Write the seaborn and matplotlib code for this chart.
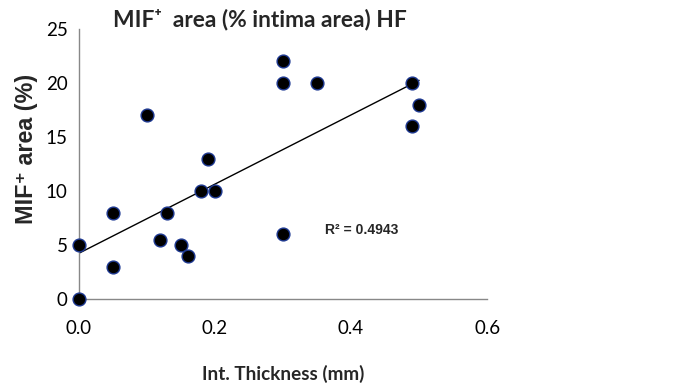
import numpy as np
import pandas as pd
import seaborn as sns
import matplotlib
matplotlib.use("Agg")
import matplotlib.pyplot as plt

thickness = [0.0, 0.0, 0.05, 0.05, 0.10, 0.12, 0.13, 0.15, 0.16, 0.18, 0.19, 0.20,
             0.30, 0.30, 0.30, 0.35, 0.49, 0.49, 0.50]
mif_area = [0, 5, 3, 8, 17, 5.5, 8, 5, 4, 10, 13, 10,
            22, 20, 6, 20, 20, 16, 18]
x_ticks = [0.0, 0.2, 0.4, 0.6]
x_tick_labels = ["0.0", "0.2", "0.4", "0.6"]
y_ticks = [0, 5, 10, 15, 20, 25]

df = pd.DataFrame({"x": thickness, "y": mif_area})

sns.set_theme(style="white")
plt.rcParams['font.family'] = ['Lato', 'DejaVu Sans']

fig = plt.figure(figsize=(6.91, 3.92), dpi=100)
ax = fig.add_axes([0.114, 0.237, 0.591, 0.689])

sns.regplot(data=df, x="x", y="y", ax=ax, ci=None, truncate=True,
            scatter_kws=dict(s=85, color="black", edgecolor="#1f3a93", linewidths=1.0,
                             zorder=3, alpha=1, clip_on=False),
            line_kws=dict(color="black", lw=1.0, zorder=2))

ax.set_xlim(0, 0.6)
ax.set_ylim(0, 25)
ax.set_xticks(x_ticks)
ax.set_xticklabels(x_tick_labels)
ax.set_yticks(y_ticks)
for s in ["top", "right"]:
    ax.spines[s].set_visible(False)
for s in ["left", "bottom"]:
    ax.spines[s].set_color("#888888")
    ax.spines[s].set_linewidth(1.0)
ax.tick_params(axis="both", direction="out", length=6, width=1, color="#888888",
               labelsize=13, labelcolor="black", pad=2)
ax.tick_params(axis="x", pad=9)

xl = ax.set_xlabel("Int. Thickness (mm)", fontsize=14, fontweight="bold")
yl = ax.set_ylabel("MIF⁺ area (%)", fontsize=16, fontweight="bold",
                   family=["Liberation Sans", "DejaVu Sans"])
title = fig.text(260 / 691, 1 - 19 / 392, "MIF⁺  area (% intima area) HF", fontsize=17,
                 fontweight="bold", ha="center", va="center")

ax.text(0.362, 6.4, "R² = 0.4943", fontsize=10, fontweight="bold",
        family=["Liberation Sans", "DejaVu Sans"], va="center", ha="left")

# fit text sizes to the reference's measured extents (pixels)
fig.canvas.draw()
r = fig.canvas.get_renderer()
def fit(t, target, dim="w"):
    e = t.get_window_extent(r)
    cur = e.width if dim == "w" else e.height
    t.set_fontsize(t.get_fontsize() * target / cur)

fit(title, 294)
fit(xl, 163)
fit(yl, 150, "h")
tl = ax.get_xticklabels()[0]
e = tl.get_window_extent(r)
ax.tick_params(axis="both", labelsize=13 * 26 / e.width)

# place labels
H = 392.0
ax_h = 0.689 * H
ax.xaxis.set_label_coords(0.5, -(374 - 299) / ax_h)
xl.set_va("center")
ax.yaxis.set_label_coords(-(79 - 27) / (0.591 * 691), (299 - 149) / ax_h)
yl.set_va("center")

fig.savefig("out.png", dpi=100)
